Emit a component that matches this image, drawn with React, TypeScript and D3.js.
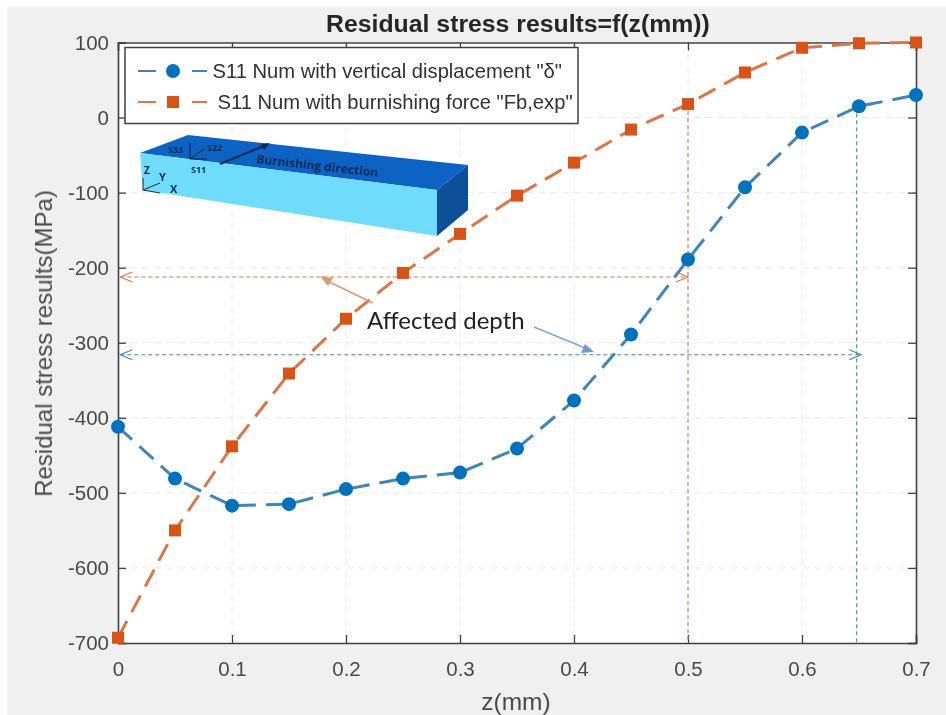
import * as d3 from "d3";
import { useEffect, useRef } from "react";

const depths = [0, 0.05, 0.1, 0.15, 0.2, 0.25, 0.3, 0.35, 0.4, 0.45, 0.5, 0.55, 0.6, 0.65, 0.7];
const displacementStress = [-412, -481, -517, -515, -495, -481, -473, -441, -377, -289, -189, -93, -20, 15, 30];
const forceStress = [-693, -550, -438, -341, -268, -207, -155, -104, -60, -16, 18, 60, 93, 99, 100];
const xTicks = [0, 0.1, 0.2, 0.3, 0.4, 0.5, 0.6, 0.7];
const yTicks = [100, 0, -100, -200, -300, -400, -500, -600, -700];
const legendLabels = ['S11 Num with vertical displacement "δ"', 'S11 Num with burnishing force "Fb,exp"'];

const BLUE = "#0072BD";
const ORANGE = "#D95319";
const BLUE_LINE = "#3f85b5";
const ORANGE_LINE = "#d9774a";
const FONT = "'Liberation Sans', Arial, sans-serif";

const margin = { left: 118, right: 916, top: 42.5, bottom: 643 };

export default function App() {
	const ref = useRef<SVGSVGElement>(null);

	useEffect(() => {
		const svg = d3.select(ref.current);
		svg.selectAll("*").remove();

		const x = d3.scaleLinear().domain([0, 0.7]).range([margin.left, margin.right]);
		const y = d3.scaleLinear().domain([-700, 100]).range([margin.bottom, margin.top]);
		const defs = svg.append("defs");
		defs.append("filter").attr("id", "soft").append("feGaussianBlur").attr("stdDeviation", 0.5);

		// window background
		svg.append("rect").attr("width", 946).attr("height", 715).attr("fill", "#fff");
		svg.append("rect").attr("x", 7).attr("y", 7).attr("width", 939).attr("height", 708).attr("fill", "#f0f0f0");
		svg.append("rect")
			.attr("x", margin.left).attr("y", margin.top)
			.attr("width", margin.right - margin.left).attr("height", margin.bottom - margin.top)
			.attr("fill", "#fff");

		const root = svg.append("g").attr("filter", "url(#soft)");

		// grid
		const grid = root.append("g").attr("stroke", "#e8e8e8").attr("stroke-width", 1).attr("stroke-dasharray", "7 5");
		xTicks.slice(1, -1).forEach(t => {
			grid.append("line").attr("x1", x(t)).attr("x2", x(t)).attr("y1", margin.top).attr("y2", margin.bottom);
		});
		yTicks.slice(1, -1).forEach(t => {
			grid.append("line").attr("x1", margin.left).attr("x2", margin.right).attr("y1", y(t)).attr("y2", y(t));
		});

		// axes
		const xAxis = d3.axisBottom(x).tickValues(xTicks).tickSize(-8).tickPadding(18).tickFormat(d => String(d));
		const yAxis = d3.axisLeft(y).tickValues(yTicks).tickSize(-8).tickPadding(9).tickFormat(d => String(d));
		const styleAxis = g => {
			g.selectAll("path").attr("stroke", "#404040").attr("stroke-width", 1.6);
			g.selectAll("line").attr("stroke", "#404040").attr("stroke-width", 1.3);
			g.selectAll("text").attr("fill", "#4a4a4a").attr("font-size", 20.5).attr("font-family", FONT);
		};
		root.append("g").attr("transform", `translate(0,${margin.bottom})`).call(xAxis).call(styleAxis);
		root.append("g").attr("transform", `translate(${margin.left},0)`).call(yAxis).call(styleAxis);
		root.append("g").attr("transform", `translate(0,${margin.top})`)
			.call(d3.axisTop(x).tickValues(xTicks).tickSize(-8).tickFormat(() => "")).call(styleAxis);
		root.append("g").attr("transform", `translate(${margin.right},0)`)
			.call(d3.axisRight(y).tickValues(yTicks).tickSize(-8).tickFormat(() => "")).call(styleAxis);

		// axis titles
		root.append("text").attr("x", 518).attr("y", 32).attr("text-anchor", "middle")
			.attr("font-family", FONT).attr("font-weight", "bold").attr("font-size", 24.8).attr("fill", "#262626")
			.text("Residual stress results=f(z(mm))");
		root.append("text").attr("x", 516).attr("y", 710).attr("text-anchor", "middle")
			.attr("font-family", FONT).attr("font-size", 24.5).attr("fill", "#4a4a4a").text("z(mm)");
		root.append("text").attr("transform", "translate(52,343.5) rotate(-90)").attr("text-anchor", "middle")
			.attr("font-family", FONT).attr("font-size", 24).attr("fill", "#4a4a4a").text("Residual stress results(MPa)");

		// affected depth guides
		const guides = root.append("g").attr("fill", "none").attr("stroke-width", 1.1).attr("stroke-dasharray", "4 3");
		guides.append("line").attr("stroke", ORANGE_LINE)
			.attr("x1", x(0.002)).attr("x2", x(0.5)).attr("y1", y(-212.5)).attr("y2", y(-212.5));
		guides.append("line").attr("stroke", ORANGE_LINE)
			.attr("x1", x(0.5)).attr("x2", x(0.5)).attr("y1", y(18)).attr("y2", y(-700));
		guides.append("line").attr("stroke", BLUE_LINE)
			.attr("x1", x(0.002)).attr("x2", x(0.652)).attr("y1", y(-316)).attr("y2", y(-316));
		guides.append("line").attr("stroke", BLUE_LINE)
			.attr("x1", x(0.648)).attr("x2", x(0.648)).attr("y1", y(15)).attr("y2", y(-700));

		const chevron = (px, py, dir, color) => {
			root.append("path")
				.attr("d", `M${px + dir * 12},${py - 5}L${px},${py}L${px + dir * 12},${py + 5}`)
				.attr("fill", "none").attr("stroke", color).attr("stroke-width", 1.1);
		};
		chevron(x(0.002), y(-212.5), 1, ORANGE_LINE);
		chevron(x(0.5), y(-212.5), -1, ORANGE_LINE);
		chevron(x(0.002), y(-316), 1, BLUE_LINE);
		chevron(x(0.652), y(-316), -1, BLUE_LINE);

		// series
		const line = d3.line<number>().x((_, i) => x(depths[i])).y(d => y(d));
		root.append("path").datum(displacementStress).attr("d", line).attr("fill", "none")
			.attr("stroke", BLUE_LINE).attr("stroke-width", 3).attr("stroke-dasharray", "19 10");
		root.append("path").datum(forceStress).attr("d", line).attr("fill", "none")
			.attr("stroke", ORANGE_LINE).attr("stroke-width", 3).attr("stroke-dasharray", "19 10");

		root.append("g").selectAll("circle").data(displacementStress).join("circle")
			.attr("cx", (_, i) => x(depths[i])).attr("cy", d => y(d)).attr("r", 7).attr("fill", BLUE);
		root.append("g").selectAll("rect").data(forceStress).join("rect")
			.attr("x", (_, i) => x(depths[i]) - 6).attr("y", d => y(d) - 6)
			.attr("width", 12).attr("height", 12).attr("fill", ORANGE);

		// callout
		root.append("text").attr("x", 367).attr("y", 329).attr("font-family", "Lato, sans-serif")
			.attr("font-size", 24).attr("fill", "#222").text("Affected depth");
		root.append("path").attr("d", "M373,303L323,279").attr("stroke", "#dc9a72").attr("stroke-width", 1.4).attr("fill", "none");
		root.append("path").attr("d", "M320,276L333,278L328,286Z").attr("fill", "#dc9a72");
		root.append("path").attr("d", "M534,327L590,350").attr("stroke", "#7fa6d0").attr("stroke-width", 1.4).attr("fill", "none");
		root.append("path").attr("d", "M594,352L581,353L585,344Z").attr("fill", "#6f9bcb");

		// legend
		const legend = root.append("g");
		legend.append("rect").attr("x", 125).attr("y", 47.5).attr("width", 453).attr("height", 76)
			.attr("fill", "#fff").attr("stroke", "#404040").attr("stroke-width", 1.5);
		[0, 1].forEach(i => {
			const ly = i === 0 ? 71 : 102;
			const color = i === 0 ? BLUE_LINE : ORANGE_LINE;
			legend.append("line").attr("x1", 138).attr("x2", 156).attr("y1", ly).attr("y2", ly).attr("stroke", color).attr("stroke-width", 2);
			legend.append("line").attr("x1", 192).attr("x2", 207).attr("y1", ly).attr("y2", ly).attr("stroke", color).attr("stroke-width", 2);
			if (i === 0) legend.append("circle").attr("cx", 173).attr("cy", ly).attr("r", 7).attr("fill", BLUE);
			else legend.append("rect").attr("x", 167).attr("y", ly - 6).attr("width", 12).attr("height", 12).attr("fill", ORANGE);
			legend.append("text").attr("x", i === 0 ? 212.5 : 217.5).attr("y", ly + 7)
				.attr("font-family", FONT).attr("font-size", 20.2).attr("fill", "#303030").text(legendLabels[i]);
		});

		// inset block
		const inset = root.append("g");
		inset.append("path").attr("d", "M140,153L188,135L468,165L437,190Z").attr("fill", "#0a63c4");
		inset.append("path").attr("d", "M140,153L437,190L437,236L143,190Z").attr("fill", "#6fdcfb");
		inset.append("path").attr("d", "M437,190L468,165L468,210L437,236Z").attr("fill", "#0b4f98");
		const dark = "#0b2a55";
		inset.append("path").attr("d", "M190,159V143M190,159L205,148M190,159H207").attr("stroke", "#10202f").attr("stroke-width", 1).attr("fill", "none");
		inset.append("path").attr("d", "M220,164L266,145").attr("stroke", dark).attr("stroke-width", 2).attr("fill", "none");
		inset.append("path").attr("d", "M270,143L261,144L264,150Z").attr("fill", dark);
		inset.append("path").attr("d", "M143,178V190L160,183M143,190L160,193").attr("stroke", "#10303a").attr("stroke-width", 1).attr("fill", "none");
		const label = (t, tx, ty, size, rot = 0) => {
			inset.append("text").attr("transform", `translate(${tx},${ty}) rotate(${rot})`)
				.attr("font-family", "'Open Sans', sans-serif").attr("font-weight", "bold").attr("font-size", size).attr("fill", dark).text(t);
		};
		label("S33", 168, 153, 9);
		label("S22", 207, 151, 9);
		label("S11", 191, 173, 9);
		label("Z", 144, 174, 10);
		label("Y", 159, 181, 11);
		label("X", 170, 193, 11);
		label("Burnishing direction", 256, 163, 12, 6.5);
	}, []);

	return <svg ref={ref} width={946} height={715} style={{ position: "absolute", left: 0, top: 0 }} />;
}
